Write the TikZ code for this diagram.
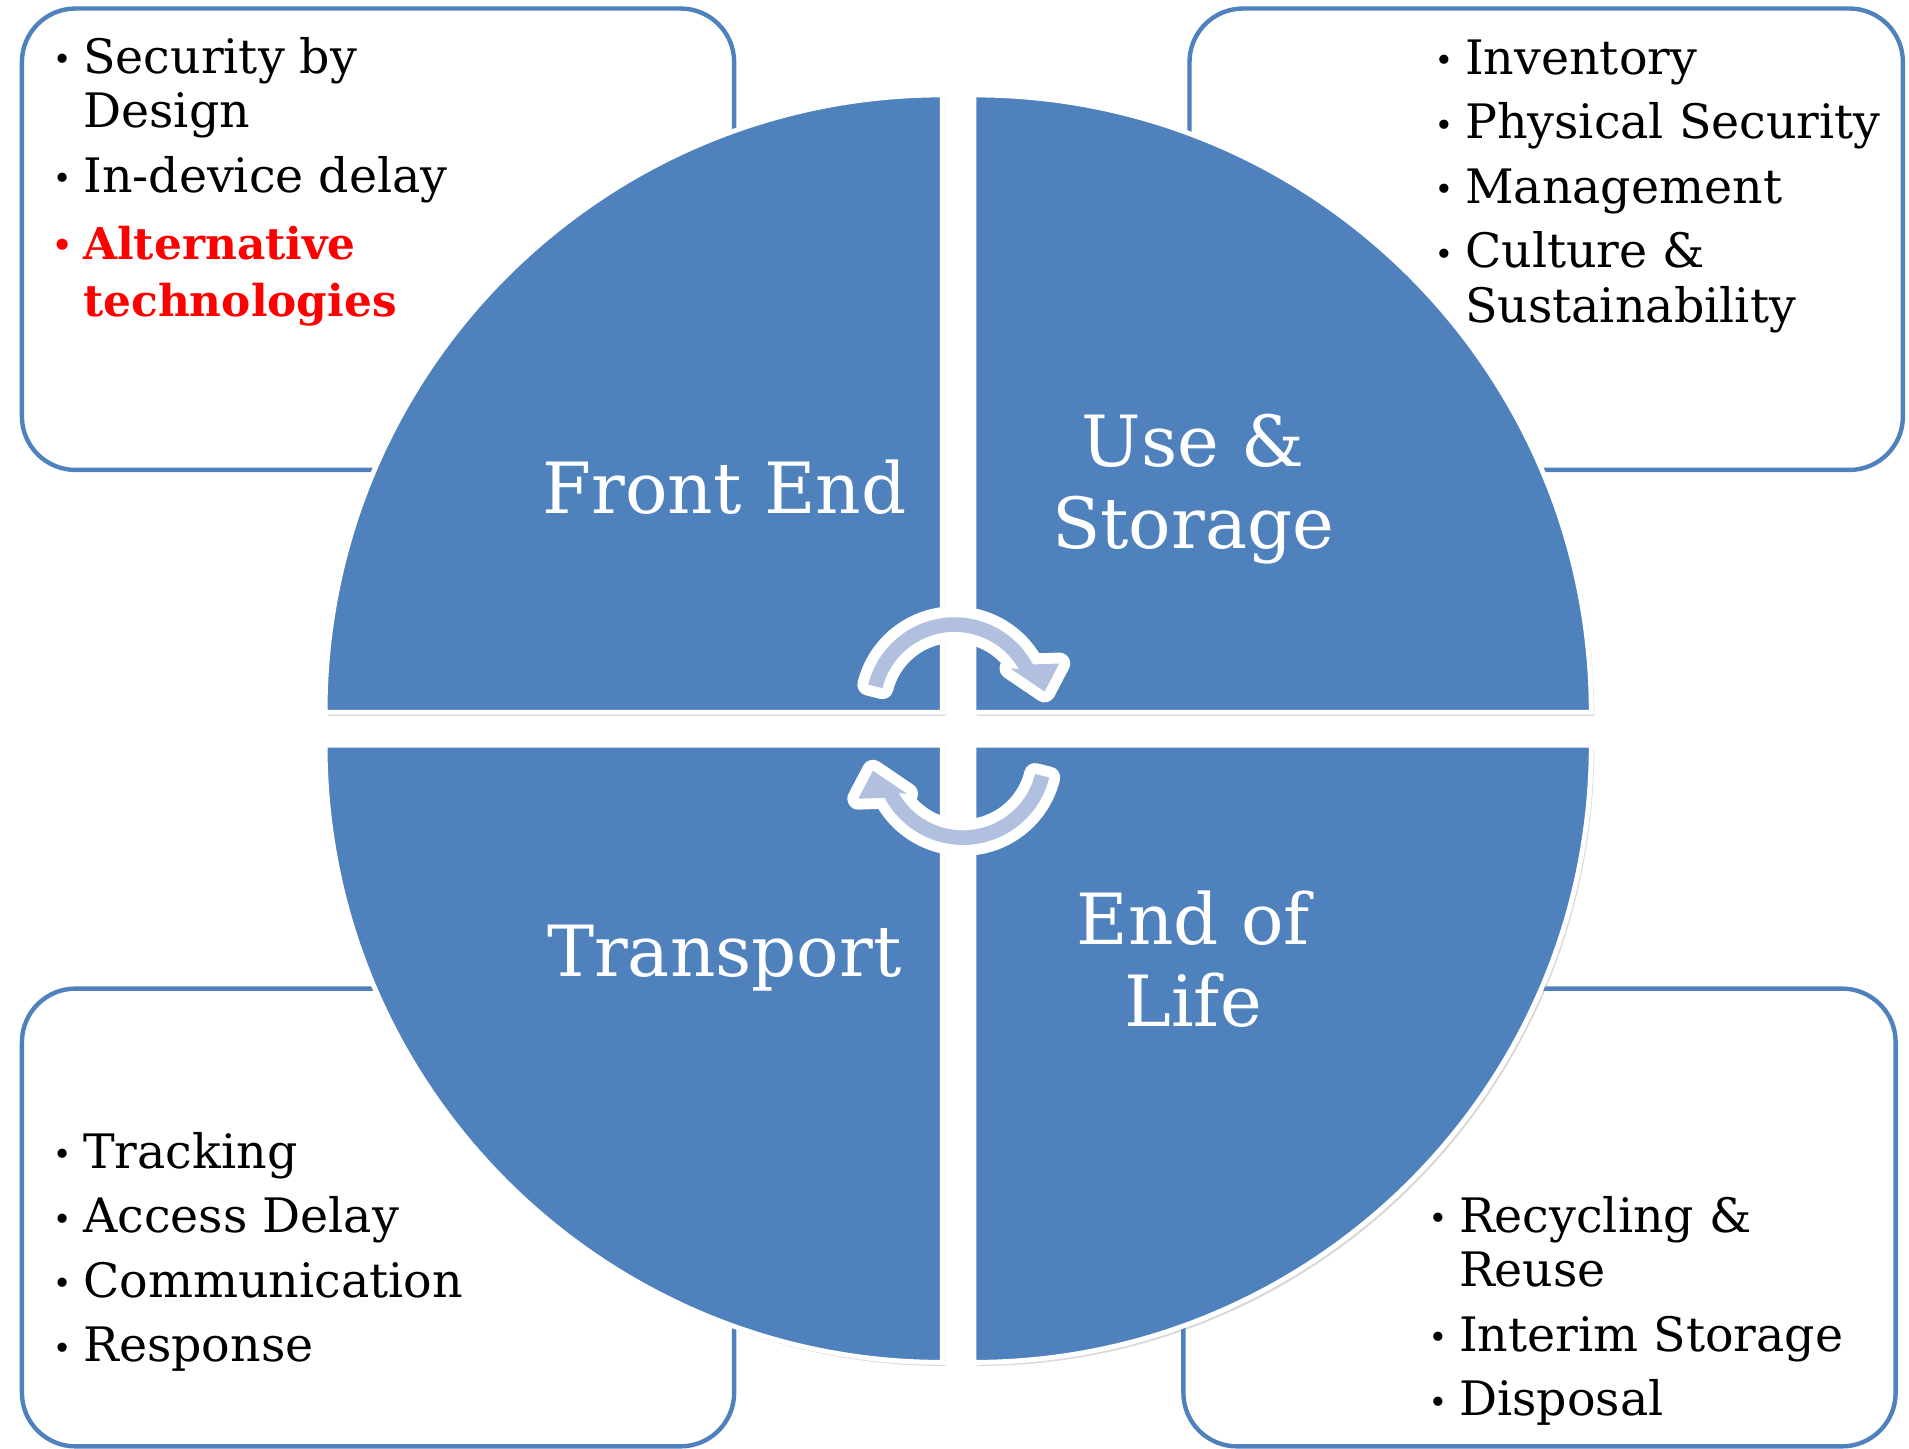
\documentclass[tikz,border=0pt]{standalone}
\usepackage{fontspec}
\setmainfont{DejaVu Serif}
\usepackage{xcolor}
\usetikzlibrary{positioning,shadows}
\definecolor{quadblue}{RGB}{79,129,189}
\definecolor{arrowfill}{RGB}{176,192,222}
\newcommand{\bul}{\makebox[12.5pt][l]{\raisebox{1pt}{\fontsize{13}{13}\selectfont\textbullet}}}
\newcommand{\hot}[1]{\textcolor{red}{\fontsize{18}{22.5}\selectfont\bfseries #1}}

\begin{document}
\begin{tikzpicture}[x=0.5pt,y=0.5pt,
  listbox/.style={draw=quadblue,line width=1.8pt,fill=white,rounded corners=22pt},
  quarter/.style={fill=quadblue,draw=white,line width=2pt,
    drop shadow={shadow xshift=1.2pt,shadow yshift=-1.5pt,opacity=0.3}},
  quadlabel/.style={text=white,font=\fontsize{29}{33.5}\selectfont,align=center,inner sep=0pt},
  listtext/.style={anchor=base west,inner sep=0pt,font=\fontsize{19.5}{22.5}\selectfont}]
\tikzset{cyclearrow/.pic={
    \path[fill=arrowfill,preaction={draw=white,line width=9pt,line join=round}]
      (166:73) arc[start angle=166,end angle=28,radius=73] -- (86,35) -- (74,12)
      -- (46,31) -- (30:61) arc[start angle=30,end angle=166,radius=61] -- cycle;}}
\useasboundingbox (0,0) rectangle (1568,1190);

% the four lists
\draw[listbox] (18,804) rectangle (603,1183);
\draw[listbox] (977,804) rectangle (1563,1183);
\draw[listbox] (18,2) rectangle (603,378);
\draw[listbox] (972,2) rectangle (1557,378);

% the circle
\coordinate (O) at (787,592);
\path[quarter] (774,605) -- (267,605) arc[start angle=180,end angle=90,radius=507] -- cycle;
\path[quarter] (800,605) -- (800,1112) arc[start angle=90,end angle=0,radius=507] -- cycle;
\path[quarter] (774,578) -- (774,71) arc[start angle=270,end angle=180,radius=507] -- cycle;
\path[quarter] (800,578) -- (1307,578) arc[start angle=0,end angle=-90,radius=507] -- cycle;

\node[quadlabel] (front) [above left=99pt and 96pt of O,anchor=center] {Front End};
\node[quadlabel] (use) [above right=98pt and 96.5pt of O,anchor=center] {Use \&\\Storage};
\node[quadlabel] (transport) [below left=94.5pt and 96pt of O,anchor=center] {Transport};
\node[quadlabel] (endlife) [below right=95pt and 96.5pt of O,anchor=center] {End of\\Life};

\pic (upper) at (784,610) {cyclearrow};
\pic[rotate=180] (lower) at (791,569) {cyclearrow};

\node[listtext] (frontlist) at (43,1130) {\begin{tabular}[t]{@{}l@{}l@{}}
  \bul & Security by\\ & Design\\[4pt]
  \bul & In-device delay\\[5pt]
  \hot{\bul} & \hot{Alternative}\\[1pt] & \hot{technologies}
\end{tabular}};
\node[listtext] (uselist) at (1178,1129) {\begin{tabular}[t]{@{}l@{}l@{}}
  \bul & Inventory\\[4pt]
  \bul & Physical Security\\[4pt]
  \bul & Management\\[4pt]
  \bul & Culture \&\\ & Sustainability
\end{tabular}};
\node[listtext] (transportlist) at (43,230.5) {\begin{tabular}[t]{@{}l@{}l@{}}
  \bul & Tracking\\[4pt]
  \bul & Access Delay\\[4pt]
  \bul & Communication\\[4pt]
  \bul & Response
\end{tabular}};
\node[listtext] (endlist) at (1173,178) {\begin{tabular}[t]{@{}l@{}l@{}}
  \bul & Recycling \&\\ & Reuse\\[4pt]
  \bul & Interim Storage\\[4pt]
  \bul & Disposal
\end{tabular}};
\end{tikzpicture}
\end{document}
